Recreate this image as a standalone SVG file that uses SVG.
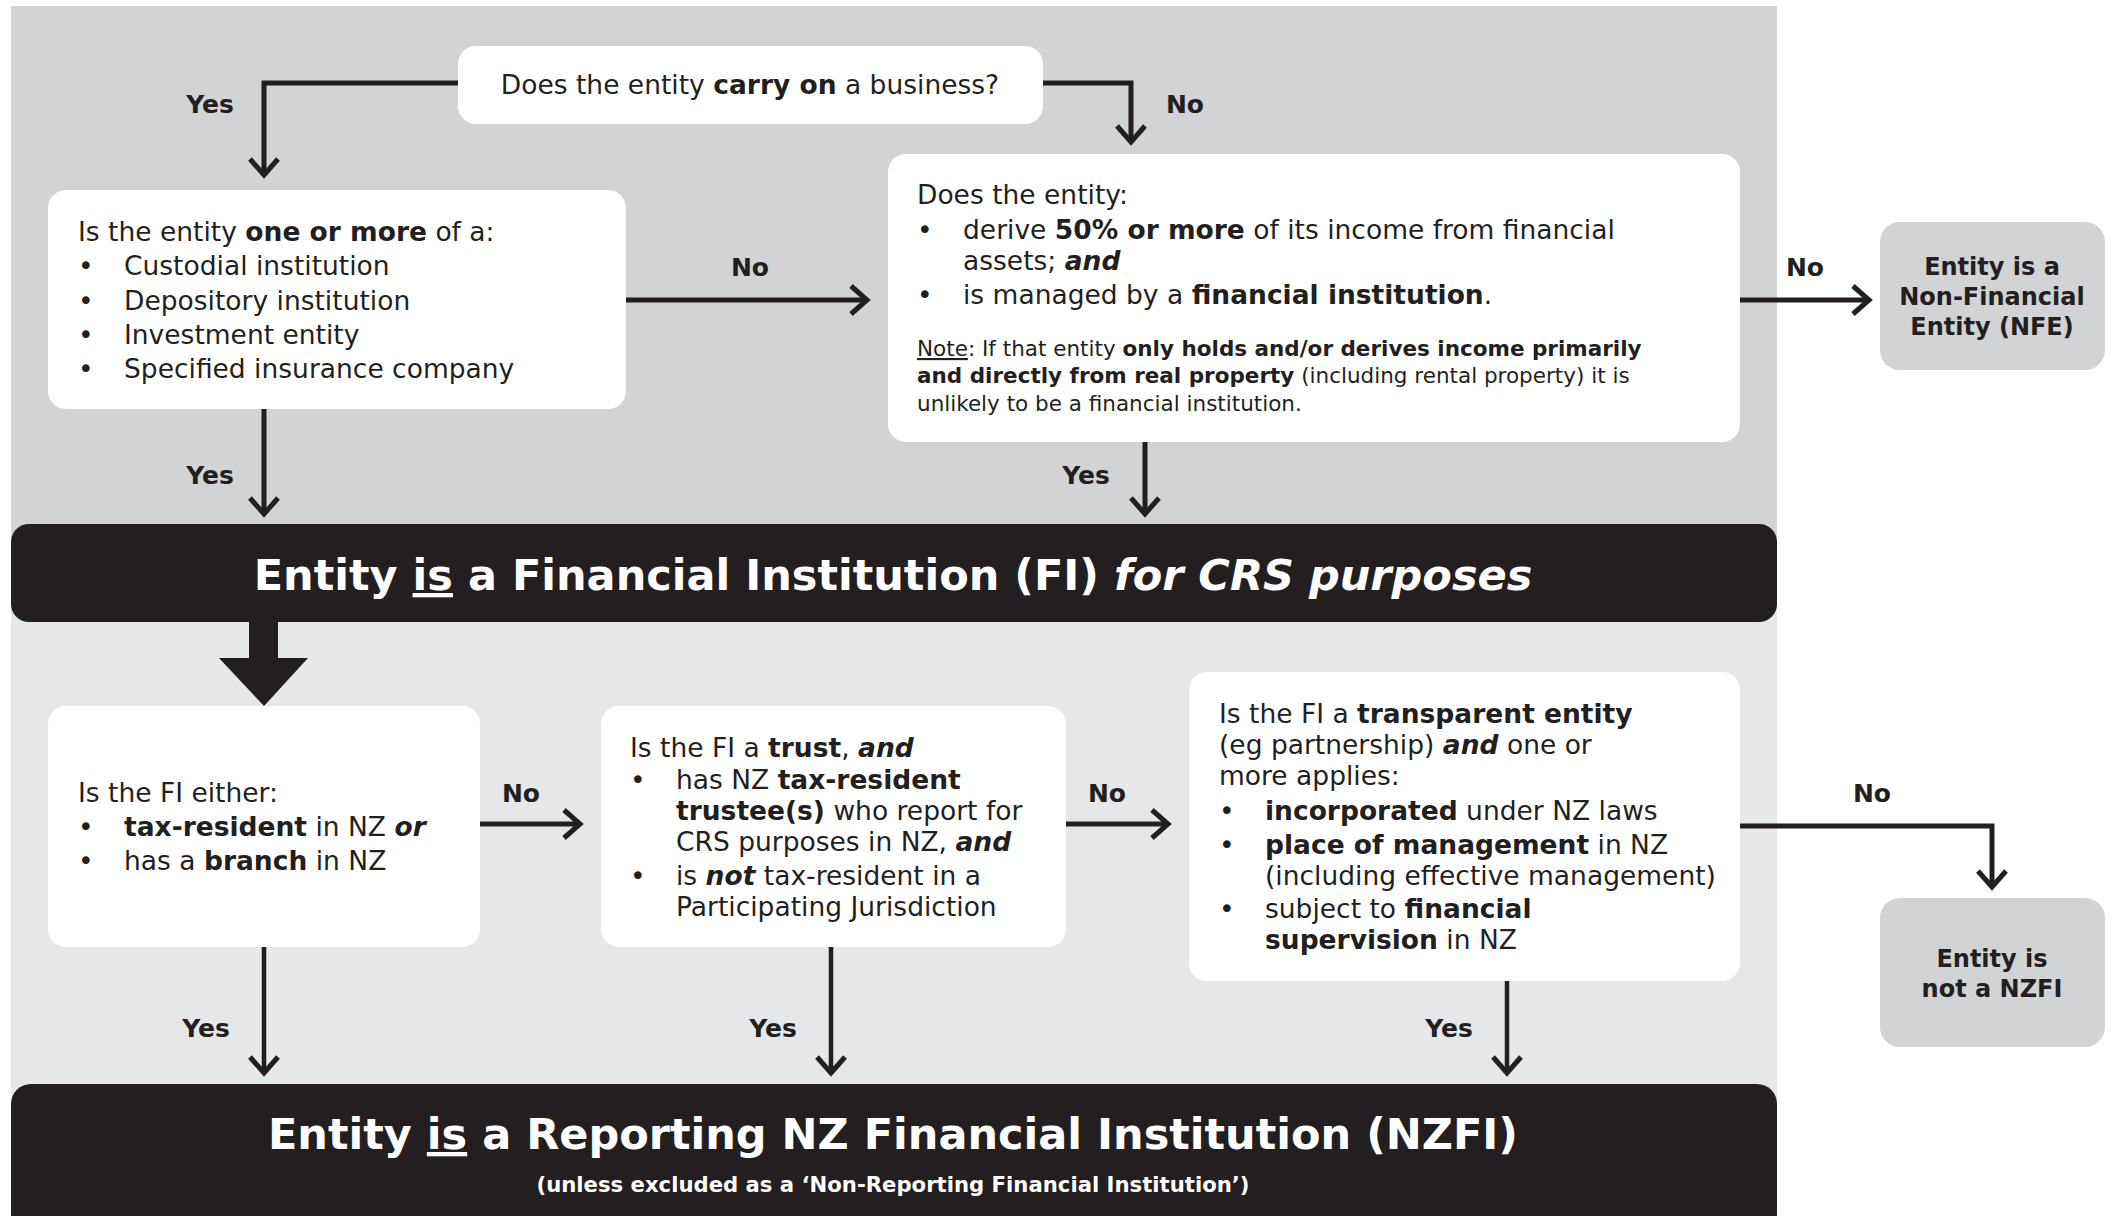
<svg xmlns="http://www.w3.org/2000/svg" width="2112" height="1216" viewBox="0 0 2112 1216">
<defs>
<style>
text{font-family:"DejaVu Sans","Verdana",sans-serif;fill:#231f20}
.t{font-size:26.5px}
.n{font-size:21.5px}
.b{font-weight:bold}
.bi{font-weight:bold;font-style:italic}
.lbl{font-size:25px;font-weight:bold;text-anchor:middle}
.box{fill:#ffffff}
.gbox{fill:#d1d3d4}
.bar{fill:#231f20}
.tt{font-size:43px;font-weight:bold;fill:#ffffff;text-anchor:middle}
.sub{font-size:21.2px;font-weight:bold;fill:#ffffff;text-anchor:middle}
.res{font-size:24px;font-weight:bold;text-anchor:middle}
.c{fill:none;stroke:#231f20;stroke-width:5;marker-end:url(#ah)}
.c2{fill:none;stroke:#231f20;stroke-width:4.5;marker-end:url(#ah)}
</style>
<marker id="ah" markerUnits="userSpaceOnUse" markerWidth="40" markerHeight="40" viewBox="-25 -20 30 40" refX="0" refY="0" orient="auto">
<path d="M-16 -14 L0 0 L-16 14" fill="none" stroke="#231f20" stroke-width="5"/>
</marker>
</defs>
<rect x="11" y="6" width="1766" height="568" fill="#d1d3d4"/>
<rect x="11" y="574" width="1766" height="560" fill="#e6e7e8"/>

<g id="q-business">
<rect class="box" x="458" y="46" width="585" height="78" rx="18"/>
<text class="t" x="750" y="94" text-anchor="middle">Does the entity <tspan class="b">carry on</tspan> a business?</text>
</g>

<g id="q-types">
<rect class="box" x="48" y="190" width="578" height="219" rx="18"/>
<text class="t" x="78" y="241">Is the entity <tspan class="b">one or more</tspan> of a:</text>
<text class="t" x="78" y="275">•</text><text class="t" x="124" y="275">Custodial institution</text>
<text class="t" x="78" y="310">•</text><text class="t" x="124" y="310">Depository institution</text>
<text class="t" x="78" y="344">•</text><text class="t" x="124" y="344">Investment entity</text>
<text class="t" x="78" y="378">•</text><text class="t" x="124" y="378">Specified insurance company</text>
</g>

<g id="q-income">
<rect class="box" x="888" y="154" width="852" height="288" rx="18"/>
<text class="t" x="917" y="204">Does the entity:</text>
<text class="t" x="917" y="239">•</text><text class="t" x="963" y="239">derive <tspan class="b">50% or more</tspan> of its income from financial</text>
<text class="t" x="963" y="270">assets; <tspan class="bi">and</tspan></text>
<text class="t" x="917" y="304">•</text><text class="t" x="963" y="304">is managed by a <tspan class="b">financial institution</tspan>.</text>
<text class="n" x="917" y="356"><tspan text-decoration="underline">Note</tspan>: If that entity <tspan class="b">only holds and/or derives income primarily</tspan></text>
<text class="n" x="917" y="383"><tspan class="b">and directly from real property</tspan> (including rental property) it is</text>
<text class="n" x="917" y="411">unlikely to be a financial institution.</text>
</g>

<g id="r-nfe">
<rect class="gbox" x="1880" y="222" width="225" height="148" rx="20"/>
<text class="res" x="1992" y="275">Entity is a</text>
<text class="res" x="1992" y="305">Non-Financial</text>
<text class="res" x="1992" y="335">Entity (NFE)</text>
</g>

<g id="r-fi">
<rect class="bar" x="11" y="524" width="1766" height="98" rx="18"/>
<text class="tt" x="893" y="590">Entity <tspan text-decoration="underline">is</tspan> a Financial Institution (FI) <tspan font-style="italic">for CRS purposes</tspan></text>
</g>

<g id="q-resident">
<rect class="box" x="48" y="706" width="432" height="241" rx="18"/>
<text class="t" x="78" y="802">Is the FI either:</text>
<text class="t" x="78" y="836">•</text><text class="t" x="124" y="836"><tspan class="b">tax-resident</tspan> in NZ <tspan class="bi">or</tspan></text>
<text class="t" x="78" y="870">•</text><text class="t" x="124" y="870">has a <tspan class="b">branch</tspan> in NZ</text>
</g>

<g id="q-trust">
<rect class="box" x="601" y="706" width="465" height="241" rx="18"/>
<text class="t" x="630" y="757">Is the FI a <tspan class="b">trust</tspan>, <tspan class="bi">and</tspan></text>
<text class="t" x="630" y="789">•</text><text class="t" x="676" y="789">has NZ <tspan class="b">tax-resident</tspan></text>
<text class="t" x="676" y="820"><tspan class="b">trustee(s)</tspan> who report for</text>
<text class="t" x="676" y="851">CRS purposes in NZ, <tspan class="bi">and</tspan></text>
<text class="t" x="630" y="885">•</text><text class="t" x="676" y="885">is <tspan class="bi">not</tspan> tax-resident in a</text>
<text class="t" x="676" y="916">Participating Jurisdiction</text>
</g>

<g id="q-transparent">
<rect class="box" x="1189" y="672" width="551" height="309" rx="18"/>
<text class="t" x="1219" y="723">Is the FI a <tspan class="b">transparent entity</tspan></text>
<text class="t" x="1219" y="754">(eg partnership) <tspan class="bi">and</tspan> one or</text>
<text class="t" x="1219" y="785">more applies:</text>
<text class="t" x="1219" y="820">•</text><text class="t" x="1265" y="820"><tspan class="b">incorporated</tspan> under NZ laws</text>
<text class="t" x="1219" y="854">•</text><text class="t" x="1265" y="854"><tspan class="b">place of management</tspan> in NZ</text>
<text class="t" x="1265" y="885">(including effective management)</text>
<text class="t" x="1219" y="918">•</text><text class="t" x="1265" y="918">subject to <tspan class="b">financial</tspan></text>
<text class="t" x="1265" y="949"><tspan class="b">supervision</tspan> in NZ</text>
</g>

<g id="r-notnzfi">
<rect class="gbox" x="1880" y="898" width="225" height="149" rx="20"/>
<text class="res" x="1992" y="967">Entity is</text>
<text class="res" x="1992" y="997">not a NZFI</text>
</g>

<g id="r-nzfi">
<rect class="bar" x="11" y="1084" width="1766" height="150" rx="20"/>
<text class="tt" x="893" y="1149">Entity <tspan text-decoration="underline">is</tspan> a Reporting NZ Financial Institution (NZFI)</text>
<text class="sub" x="893" y="1192">(unless excluded as a ‘Non-Reporting Financial Institution’)</text>
</g>

<g id="connectors">
<path class="c" d="M458 83 H264 V175"/>
<path class="c" d="M1043 83 H1131 V142"/>
<path class="c" d="M626 300 H867"/>
<path class="c" d="M264 409 V514"/>
<path class="c" d="M1145 442 V514"/>
<path class="c" d="M1740 300 H1869"/>
<polygon points="249,621 278,621 278,658 308,658 264,706 219,658 249,658" fill="#231f20"/>
<path class="c" d="M480 824 H580"/>
<path class="c" d="M1066 824 H1168"/>
<path class="c" d="M1740 826 H1992 V887"/>
<path class="c2" d="M264 947 V1073"/>
<path class="c2" d="M831 947 V1073"/>
<path class="c2" d="M1507 981 V1073"/>
<text class="lbl" x="210" y="113">Yes</text>
<text class="lbl" x="1185" y="113">No</text>
<text class="lbl" x="750" y="276">No</text>
<text class="lbl" x="210" y="484">Yes</text>
<text class="lbl" x="1086" y="484">Yes</text>
<text class="lbl" x="1805" y="276">No</text>
<text class="lbl" x="521" y="802">No</text>
<text class="lbl" x="1107" y="802">No</text>
<text class="lbl" x="1872" y="802">No</text>
<text class="lbl" x="206" y="1037">Yes</text>
<text class="lbl" x="773" y="1037">Yes</text>
<text class="lbl" x="1449" y="1037">Yes</text>
</g>
</svg>
